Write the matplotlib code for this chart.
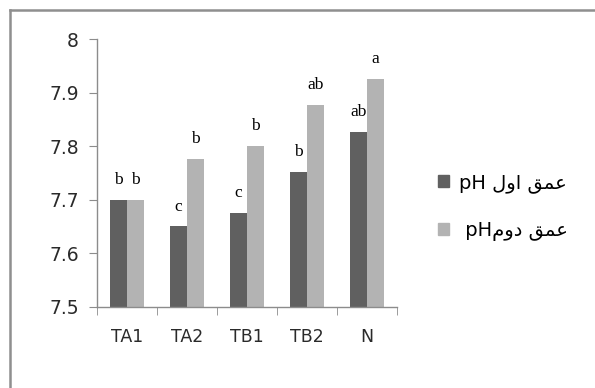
import matplotlib
matplotlib.use("Agg")
import matplotlib.pyplot as plt
from matplotlib.lines import Line2D
from matplotlib.patches import Patch
import numpy as np

categories = ["TA1", "TA2", "TB1", "TB2", "N"]
ph_depth1 = [7.70, 7.65, 7.675, 7.751, 7.827]
ph_depth2 = [7.70, 7.776, 7.80, 7.877, 7.926]
letters1 = ["b", "c", "c", "b", "ab"]
letters2 = ["b", "b", "b", "ab", "a"]
yticks = [7.5, 7.6, 7.7, 7.8, 7.9, 8.0]
ytick_labels = ["7.5", "7.6", "7.7", "7.8", "7.9", "8"]
# Persian labels in visual (shaped, left-to-right) order
label1 = "pH " + "\uFEDD\uFEED\uFE8D" + " " + "\uFED6\uFEE4\uFECB"   # pH عمق اول
label2 = " pH" + "\uFEE1\uFEED\uFEA9" + " " + "\uFED6\uFEE4\uFECB"   # pH عمق دوم

dark = "#606060"
light = "#b3b3b3"
axis_gray = "#8c8c8c"

fig = plt.figure(figsize=(5.95, 3.88), dpi=100)
ax = fig.add_axes([96.7 / 595, (388 - 306.7) / 388, 300 / 595, (306.7 - 39.3) / 388])

x = np.arange(len(categories))
w = 0.28
ax.bar(x - w / 2, np.array(ph_depth1) - 7.5, w, bottom=7.5, color=dark, label=label1)
ax.bar(x + w / 2, np.array(ph_depth2) - 7.5, w, bottom=7.5, color=light, label=label2)

for xi, v, t in zip(x - w / 2, ph_depth1, letters1):
    ax.annotate(t, (xi, v), xytext=(0, 11.5), textcoords="offset points",
                ha="center", va="baseline", family="Liberation Serif", fontsize=12.5)
for xi, v, t in zip(x + w / 2, ph_depth2, letters2):
    ax.annotate(t, (xi, v), xytext=(0, 11.5), textcoords="offset points",
                ha="center", va="baseline", family="Liberation Serif", fontsize=12.5)

ax.set_xlim(-0.5, len(categories) - 0.5)
ax.set_ylim(7.5, 8.0)
ax.set_yticks(yticks)
ax.set_yticklabels(ytick_labels)
ax.set_xticks(x)
ax.set_xticklabels(categories)
ax.set_xticks(np.arange(len(categories) + 1) - 0.5, minor=True)

for s in ["top", "right"]:
    ax.spines[s].set_visible(False)
for s in ["left", "bottom"]:
    ax.spines[s].set_color(axis_gray)
    ax.spines[s].set_linewidth(1.0)

ax.tick_params(axis="y", direction="out", length=6, color=axis_gray, labelsize=13.5,
               pad=7, labelcolor="#2a2a2a")
ax.tick_params(axis="x", which="major", length=0, labelsize=12.5, pad=15, labelcolor="#2a2a2a")
ax.tick_params(axis="x", which="minor", direction="out", length=6, color=axis_gray)

handles = [Patch(color=dark), Patch(color=light)]
fig.legend(handles, [label1, label2], loc="center left",
           bbox_to_anchor=(438 / 595, (388 - 207) / 388),
           frameon=False, borderpad=0, borderaxespad=0,
           handlelength=0.55, handleheight=0.55, handletextpad=0.55,
           labelspacing=1.45, prop={"family": "DejaVu Sans", "size": 14})

fig.add_artist(Line2D([9.5 / 595, 1.0], [1 - 9.5 / 388, 1 - 9.5 / 388],
                      transform=fig.transFigure, color="#8f8f8f", lw=1.8))
fig.add_artist(Line2D([9.5 / 595, 9.5 / 595], [0, 1 - 9.5 / 388],
                      transform=fig.transFigure, color="#8f8f8f", lw=1.8))

fig.savefig("out.png", dpi=100)
